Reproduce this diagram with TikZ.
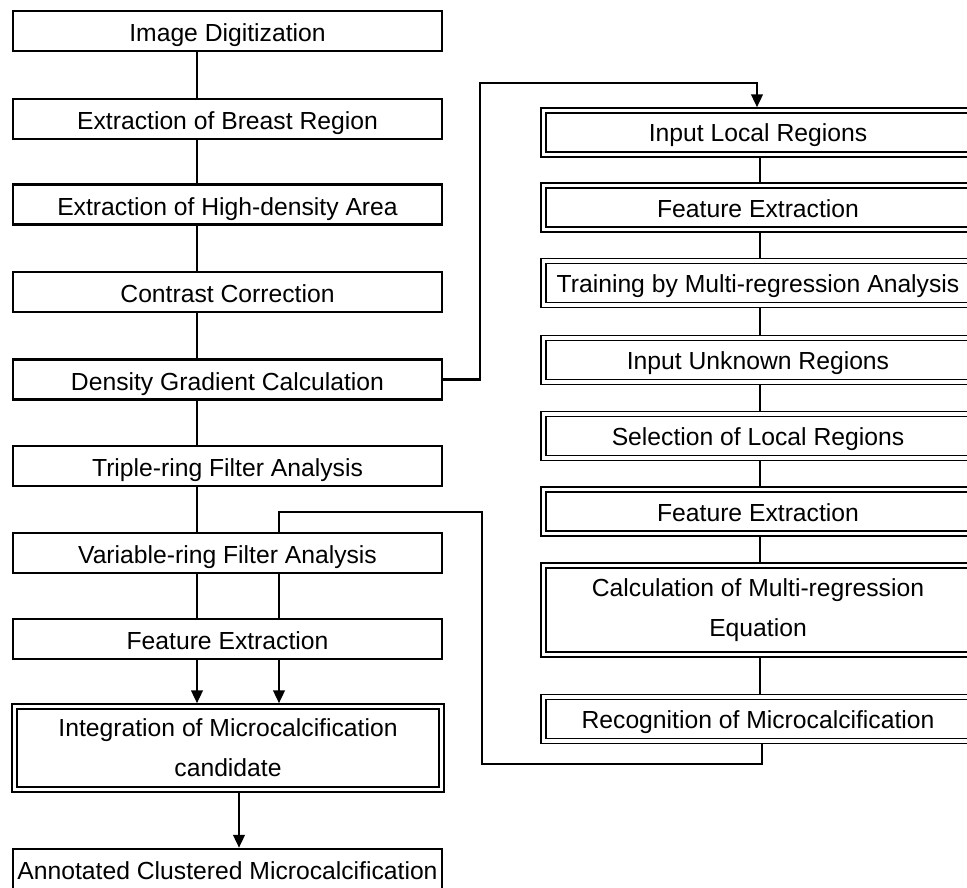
\documentclass[tikz,border=0pt]{standalone}
\usepackage{fontspec}
\setmainfont{Liberation Sans}
\usetikzlibrary{arrows.meta}
\begin{document}
\begin{tikzpicture}[x=1pt,y=-1pt,
  base/.style={inner sep=0pt, align=center, font=\fontsize{24.7}{40}\selectfont},
  box/.style={base, draw, line width=2.4pt, minimum width=429pt, minimum height=40pt,
    text height=21pt, text depth=0pt},
  dframe/.style={base, draw, line width=1.4pt, double, double distance=3.6pt, outer sep=3.2pt,
    minimum width=429pt},
  dbox/.style={dframe, minimum height=44pt, text height=19pt, text depth=0pt},
  conn/.style={line width=2.6pt},
  arr/.style={line width=2.6pt, -{Triangle[width=11.5pt,length=13pt]}}]
\useasboundingbox (0,0) rectangle (967,888);
% left column
\node[box] (b1) at (227.5,31) {Image Digitization};
\node[box] (b2) at (227.5,119) {Extraction of Breast Region};
\node[box] (b3) at (227.5,204.5) {Extraction of High-density Area};
\node[box] (b4) at (227.5,292) {Contrast Correction};
\node[box] (b5) at (227.5,379.5) {Density Gradient Calculation};
\node[box] (b6) at (227.5,466) {Triple-ring Filter Analysis};
\node[box] (b7) at (227.5,553) {Variable-ring Filter Analysis};
\node[box] (b8) at (227.5,639) {Feature Extraction};
\node[dframe, minimum width=427pt, minimum height=83pt] (b9) at (228,748) {Integration of Microcalcification\\candidate};
\node[box] (b10) at (227.5,869) {Annotated Clustered Microcalcification};
% right column
\node[dbox] (r1) at (758,132.5) {Input Local Regions};
\node[dbox] (r2) at (758,207.5) {Feature Extraction};
\node[dbox] (r3) at (758,283) {Training by Multi-regression Analysis};
\node[dbox] (r4) at (758,360) {Input Unknown Regions};
\node[dbox] (r5) at (758,436) {Selection of Local Regions};
\node[dbox] (r6) at (758,511.5) {Feature Extraction};
\node[dframe, minimum height=89pt] (r7) at (758,610) {Calculation of Multi-regression\\Equation};
\node[dbox] (r8) at (758,719) {Recognition of Microcalcification};
% helper coordinates
\coordinate (xL) at (197,0);
\coordinate (xM) at (279,0);
\coordinate (xA) at (239,0);
\coordinate (xR) at (760,0);
\coordinate (fa) at (757,0);
\coordinate (ft) at (480,83);
\coordinate (fr) at (762,0);
\coordinate (fb) at (482,764);
\coordinate (fc) at (279,512);
% left chain
\draw[conn] (b1.south -| xL) -- (b2.north -| xL);
\draw[conn] (b2.south -| xL) -- (b3.north -| xL);
\draw[conn] (b3.south -| xL) -- (b4.north -| xL);
\draw[conn] (b4.south -| xL) -- (b5.north -| xL);
\draw[conn] (b5.south -| xL) -- (b6.north -| xL);
\draw[conn] (b6.south -| xL) -- (b7.north -| xL);
\draw[conn] (b7.south -| xL) -- (b8.north -| xL);
\draw[conn] (b7.south -| xM) -- (b8.north -| xM);
\draw[arr] (b8.south -| xL) -- (b9.north -| xL);
\draw[arr] (b8.south -| xM) -- (b9.north -| xM);
\draw[arr] (b9.south -| xA) -- (b10.north -| xA);
% right chain
\draw[conn] (r1.south -| xR) -- (r2.north -| xR);
\draw[conn] (r2.south -| xR) -- (r3.north -| xR);
\draw[conn] (r3.south -| xR) -- (r4.north -| xR);
\draw[conn] (r4.south -| xR) -- (r5.north -| xR);
\draw[conn] (r5.south -| xR) -- (r6.north -| xR);
\draw[conn] (r6.south -| xR) -- (r7.north -| xR);
\draw[conn] (r7.south -| xR) -- (r8.north -| xR);
% feedback connectors
\draw[arr] (b5.east) -| (ft) -- (ft -| fa) -- (r1.north -| fa);
\draw[conn] (r8.south -| fr) |- (fb) |- (fc) -- (b7.north -| fc);
\end{tikzpicture}
\end{document}
